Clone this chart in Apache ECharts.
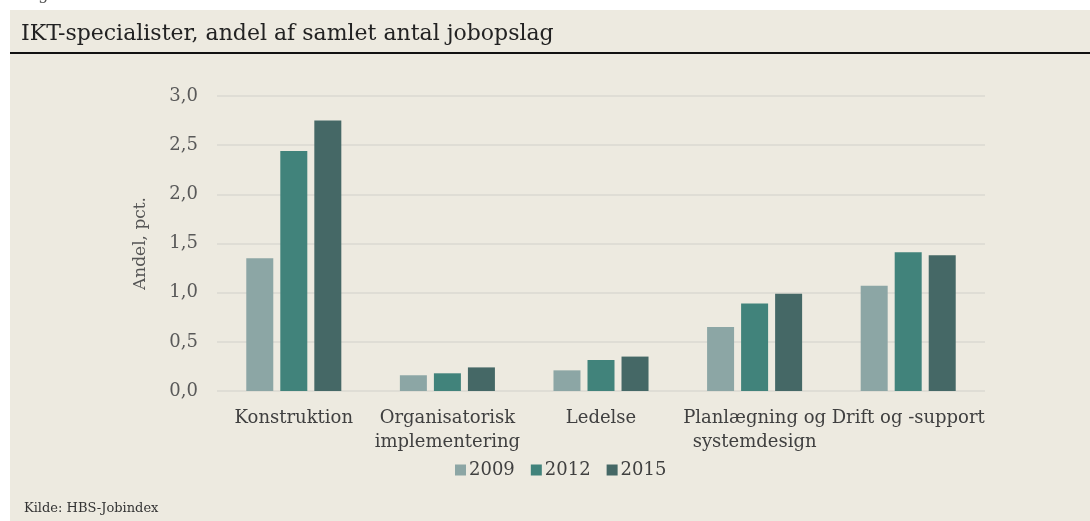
<!DOCTYPE html>
<html>
<head>
<meta charset="utf-8">
<script src="https://cdn.jsdelivr.net/npm/echarts@6/dist/echarts.min.js"></script>
<style>
html,body{margin:0;padding:0;background:#fff;}
#chart{width:1090px;height:521px;}
</style>
</head>
<body>
<div id="chart"></div>
<script>
const categories = ['Konstruktion', 'Organisatorisk\nimplementering', 'Ledelse', 'Planlægning og\nsystemdesign', 'Drift og -support'];
const years = ['2009', '2012', '2015'];
const values2009 = [1.35, 0.16, 0.21, 0.65, 1.07];
const values2012 = [2.44, 0.18, 0.315, 0.89, 1.41];
const values2015 = [2.75, 0.24, 0.35, 0.99, 1.38];
const yTicks = [0, 0.5, 1.0, 1.5, 2.0, 2.5, 3.0];
const colors = ['#8CA6A5', '#41837B', '#456866'];
const FONT = 'DejaVu Serif';

const chart = echarts.init(document.getElementById('chart'));
const seriesData = [values2009, values2012, values2015];
chart.setOption({
  backgroundColor: '#EDEAE0',
  animation: false,
  graphic: [
    {type: 'rect', left: 0, top: 0, shape: {width: 1090, height: 10}, style: {fill: '#ffffff'}, z: 100},
    {type: 'rect', left: 0, top: 0, shape: {width: 10, height: 521}, style: {fill: '#ffffff'}, z: 100},
    {type: 'text', left: 22, top: -13, z: 101, style: {text: 'Figur 2.3', fill: '#555', font: '16px "DejaVu Serif"'}},
    {type: 'text', left: 21, top: 23, z: 101, style: {text: 'IKT-specialister, andel af samlet antal jobopslag', fill: '#222', font: '22px "DejaVu Serif"'}},
    {type: 'rect', left: 10, top: 52, shape: {width: 1080, height: 2}, style: {fill: '#111'}, z: 101},
    {type: 'text', left: 24, top: 502, z: 101, style: {text: 'Kilde: HBS-Jobindex', fill: '#333', font: '13px "DejaVu Serif"'}}
  ],
  grid: {left: 217, right: 105, top: 96, bottom: 130},
  legend: {
    data: years,
    left: 450,
    top: 456,
    itemWidth: 11,
    itemHeight: 11,
    itemGap: 16,
    icon: 'rect',
    textStyle: {fontFamily: FONT, fontSize: 18, color: '#404040', padding: [0, 0, 0, -2]}
  },
  xAxis: {
    type: 'category',
    data: categories,
    axisLine: {show: false},
    axisTick: {show: false},
    axisLabel: {fontFamily: FONT, fontSize: 18, color: '#404040', lineHeight: 24, margin: 15, interval: 0}
  },
  yAxis: {
    type: 'value',
    min: yTicks[0],
    max: yTicks[yTicks.length - 1],
    interval: 0.5,
    name: 'Andel, pct.',
    nameLocation: 'middle',
    nameGap: 68,
    nameRotate: 90,
    nameTextStyle: {fontFamily: FONT, fontSize: 17, color: '#555'},
    axisLine: {show: false},
    axisTick: {show: false},
    splitLine: {lineStyle: {color: '#DAD8D2', width: 1.5}},
    axisLabel: {fontFamily: FONT, fontSize: 18, color: '#595959', margin: 19,
      formatter: v => v.toFixed(1).replace('.', ',')}
  },
  series: years.map((y, i) => ({
    name: y,
    type: 'bar',
    data: seriesData[i],
    barWidth: 27,
    barGap: '26%',
    itemStyle: {color: colors[i]}
  }))
});
</script>
</body>
</html>
